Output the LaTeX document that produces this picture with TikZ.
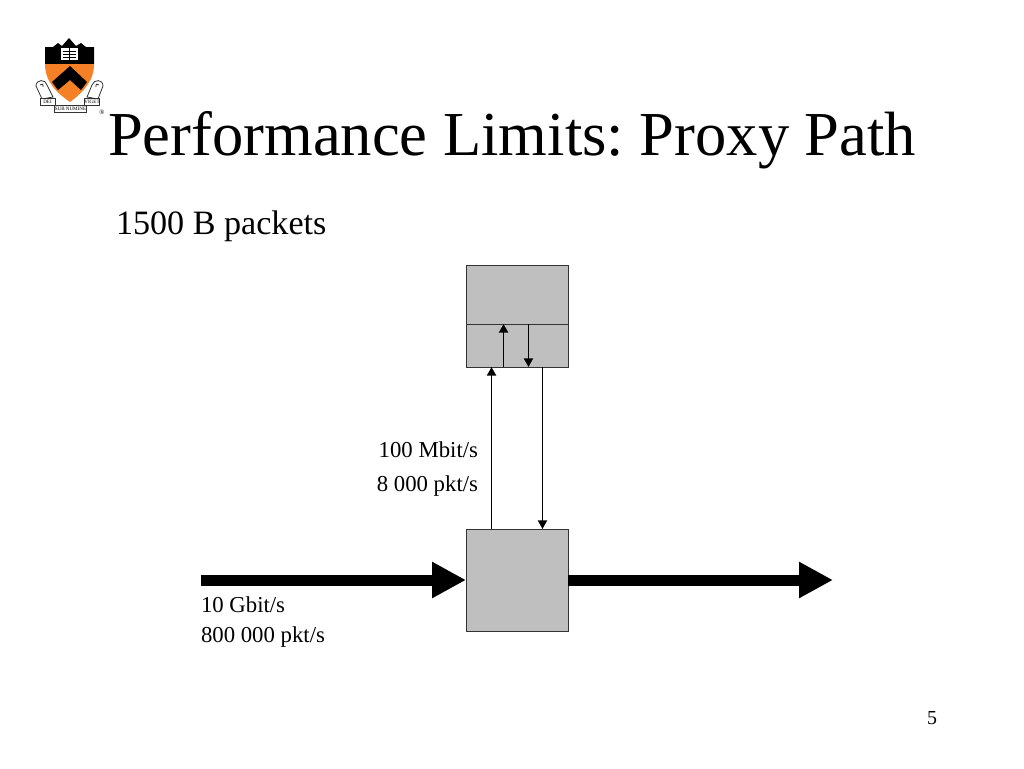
\documentclass[tikz,border=0pt]{standalone}
\usepackage{fontspec}
\setmainfont{Liberation Serif}
\usepackage{xcolor}
\usetikzlibrary{positioning,arrows.meta}
\definecolor{boxgray}{HTML}{BFBFBF}
\definecolor{shieldorange}{HTML}{F58025}
\frenchspacing

\begin{document}
\begin{tikzpicture}[x=0.75pt, y=-0.75pt, node distance=0pt,
    every node/.style={inner sep=0pt, outer sep=0pt},
    titletext/.style={font=\fontsize{46.93}{50}\selectfont},
    bodytext/.style={font=\fontsize{25.6}{30}\selectfont},
    ratetext/.style={font=\fontsize{17.07}{20}\selectfont},
    pagetext/.style={font=\fontsize{14.93}{18}\selectfont},
    mottotext/.style={draw=black!80, line width=0.5pt, fill=white, font=\fontsize{3.8}{4}\selectfont},
    graybox/.style={rectangle, draw=black!80, line width=0.75pt, fill=boxgray, minimum width=76.5pt},
    thinarrow/.style={line width=1.4pt, -{Triangle[length=6.5pt, width=6.8pt]}},
    fatarrow/.style={line width=8.25pt, -{Triangle[length=25.5pt, width=25.5pt, sep=0pt]}}]
    \useasboundingbox (0,0) rectangle (1024,768);
    \fill[white] (0,0) rectangle (1024,768);

    % logo
    \fill[black] (45,47) -- (53,47) -- (58,43) -- (62,46) -- (69,38) -- (76,46) -- (81,43) -- (86,47) -- (94,47)
        -- (94,64) -- (45,64) -- cycle;
    \fill[shieldorange] (45,64) -- (94,64) .. controls (94,82) and (82,93) .. (70,102) .. controls (57,93) and (45,82) .. (45,64) -- cycle;
    \fill[black] (70,66) -- (87,82) -- (81,90) -- (70,80) -- (58,90) -- (52,82) -- cycle;
    \fill[white] (61,48) rectangle (78,60);
    \draw[black, line width=0.5pt] (63,51) -- (76,51) (63,54) -- (76,54) (63,57) -- (76,57) (69.5,48) -- (69.5,60);
    \draw[black!80, line width=0.6pt, fill=white] (36,86) .. controls (36,79) and (46,79) .. (47,85) -- (53,97) -- (42,99) -- cycle;
    \draw[black!80, line width=0.6pt] (40,85) .. controls (41,83) and (44,84) .. (43,87);
    \draw[black!80, line width=0.6pt, fill=white] (103,86) .. controls (103,79) and (94,79) .. (92,85) -- (87,97) -- (98,99) -- cycle;
    \draw[black!80, line width=0.6pt] (99,85) .. controls (98,83) and (95,84) .. (96,87);
    \node[mottotext, minimum width=11pt, minimum height=5pt] (deibox) at (47.5,101.5) {DEI};
    \node[mottotext, minimum width=11pt, minimum height=5pt] (vigetbox) at (92,101.5) {VIGET};
    \node[mottotext, minimum width=23pt, minimum height=5.5pt] (subbox) at (70.5,108.5) {SUB NUMINE};
    \node[font=\fontsize{5}{6}\selectfont] (regmark) at (102,112.5) {®};

    \node[titletext, anchor=base west] (title) at (108,155) {Performance Limits: Proxy Path};
    \node[bodytext, anchor=base west] (subtitle) at (116,234) {1500 B packets};

    \node[graybox, minimum height=44.25pt, anchor=north] (proxyapp) at (517,265) {};
    \node[graybox, minimum height=32.25pt, below=of proxyapp] (proxykernel) {};
    \node[graybox, minimum height=76.5pt, anchor=north] (router) at (517,529) {};
    \coordinate (source) at (201,580);
    \coordinate (sink) at (833,580);

    \draw[thinarrow] ([xshift=-19.1pt]router.north) -- ([xshift=-19.1pt]proxykernel.south);
    \draw[thinarrow] ([xshift=19.1pt]proxykernel.south) -- ([xshift=19.1pt]router.north);
    \draw[thinarrow] ([xshift=-10.1pt]proxykernel.south) -- ([xshift=-10.1pt]proxykernel.north);
    \draw[thinarrow] ([xshift=8.6pt]proxykernel.north) -- ([xshift=8.6pt]proxykernel.south);
    \draw[fatarrow] (source) -- (router.west |- source);
    \draw[fatarrow] (router.east |- source) -- (sink);

    \node[ratetext, anchor=base east] (proxybits) at (478,457) {100 Mbit/s};
    \node[ratetext, anchor=base east] (proxypkts) at (478,491) {8 000 pkt/s};
    \node[ratetext, anchor=base west] (linkbits) at (201,612) {10 Gbit/s};
    \node[ratetext, anchor=base west] (linkpkts) at (201,642) {800 000 pkt/s};
    \node[pagetext, anchor=base east] (pagenum) at (937,724) {5};
\end{tikzpicture}
\end{document}
